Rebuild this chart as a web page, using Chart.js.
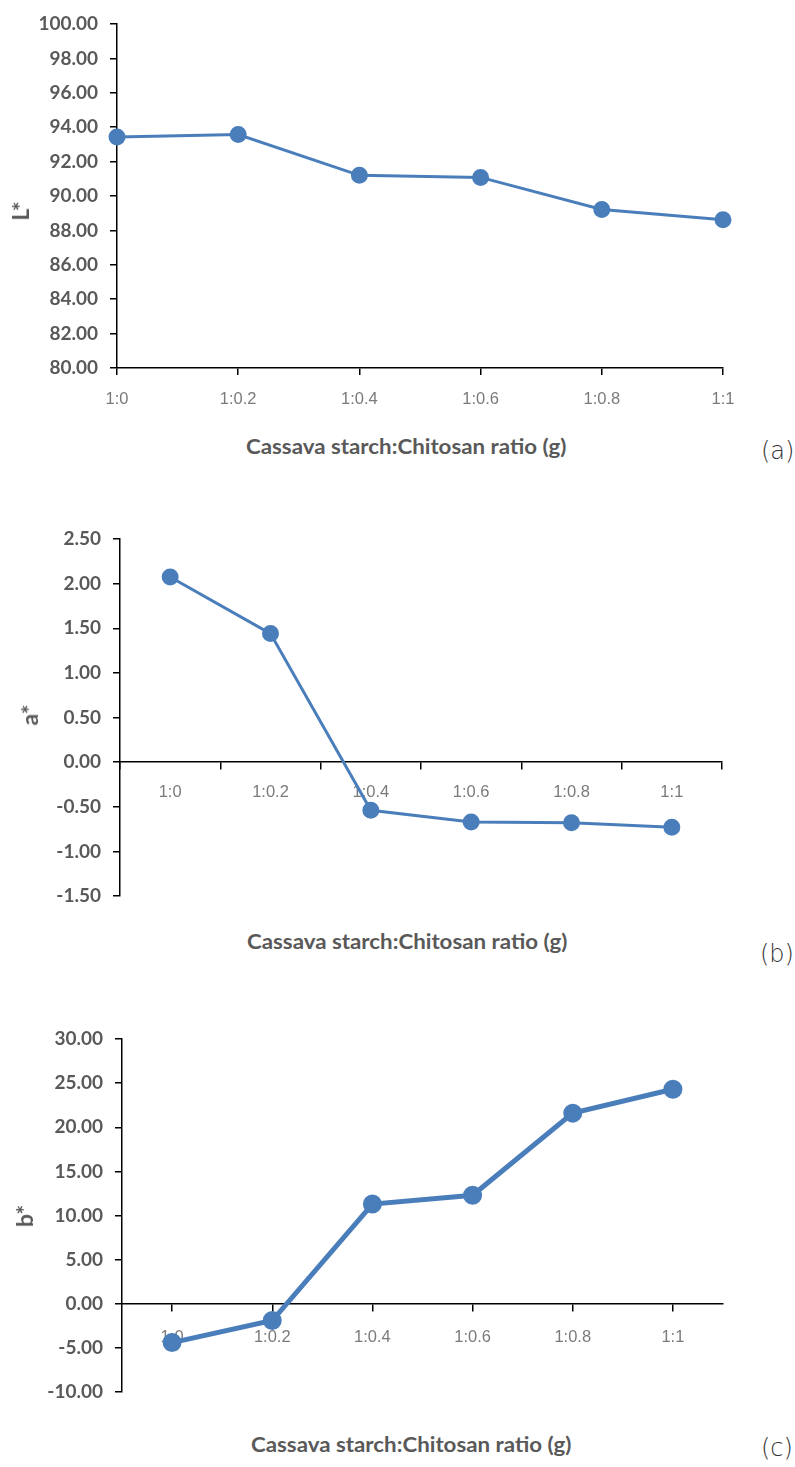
<!DOCTYPE html>
<html>
<head>
<meta charset="utf-8">
<script src="https://cdn.jsdelivr.net/npm/chart.js@4"></script>
<style>
  body { margin: 0; background: #fff; width: 795px; height: 1467px; position: relative; overflow: hidden; }
  canvas { position: absolute; left: 0; }
  .xtitle { position: absolute; white-space: nowrap; font: bold 20px Lato, 'Open Sans', sans-serif; color: #595959; transform-origin: 0 0; }
  .ytitle { position: absolute; white-space: nowrap; font: bold 23px Lato, 'Open Sans', sans-serif; color: #595959; transform: translate(-50%, -50%) rotate(-90deg); }
  .tag { position: absolute; font: 200 24px 'DejaVu Sans', sans-serif; color: #333; }
</style>
</head>
<body>
<canvas id="chartA" width="795" height="420" style="top:0px"></canvas>
<canvas id="chartB" width="795" height="420" style="top:500px"></canvas>
<canvas id="chartC" width="795" height="402" style="top:1014px"></canvas>

<div class="ytitle" style="left:20px;top:211px">L*</div>
<div class="ytitle" style="left:29px;top:715px">a*</div>
<div class="ytitle" style="left:24px;top:1216px">b*</div>
<div class="xtitle" data-cx="406" style="top:434px">Cassava starch:Chitosan ratio (g)</div>
<div class="xtitle" data-cx="407" style="top:929px">Cassava starch:Chitosan ratio (g)</div>
<div class="xtitle" data-cx="411" style="top:1432px">Cassava starch:Chitosan ratio (g)</div>
<div class="tag" style="left:761px;top:437px">(a)</div>
<div class="tag" style="left:760px;top:940px">(b)</div>
<div class="tag" style="left:761px;top:1434px">(c)</div>

<script>
// values
let ratios = ['1:0', '1:0.2', '1:0.4', '1:0.6', '1:0.8', '1:1'];
let lValues = [93.43, 93.57, 91.2, 91.08, 89.22, 88.62];
let aValues = [2.075, 1.44, -0.54, -0.67, -0.68, -0.73];
let bValues = [-4.4, -1.9, 11.3, 12.3, 21.6, 24.3];

let blue = '#4a7ebb';
let tickFont = { family: "Lato, 'Open Sans', sans-serif", size: 19, weight: 'bold' };
let catFont = { family: "'Liberation Sans', Arial, sans-serif", size: 16.5 };

// fit the axis titles to the width they have in the original
document.querySelectorAll('.xtitle').forEach(function (el) {
    let k = 320 / el.offsetWidth;
    el.style.transform = 'scaleX(' + k + ')';
    el.style.left = (Number(el.dataset.cx) - 160) + 'px';
});

function makeChart(id, values, opts) {
    new Chart(document.getElementById(id), {
        type: 'line',
        data: {
            labels: ratios,
            datasets: [{
                data: values,
                borderColor: blue,
                backgroundColor: blue,
                borderWidth: opts.lineWidth,
                pointRadius: 7,
                pointHoverRadius: 7,
                tension: 0
            }]
        },
        options: {
            responsive: false,
            animation: false,
            layout: { padding: opts.padding },
            plugins: { legend: { display: false }, tooltip: { enabled: false } },
            scales: {
                x: {
                    type: 'category',
                    position: opts.xPos,
                    offset: opts.offset,
                    grid: { display: true, drawOnChartArea: false, offset: opts.gridOffset, color: '#000', lineWidth: 1.5, tickLength: 7 },
                    border: { display: true, color: '#000', width: 1.5 },
                    ticks: { color: '#7a7a7a', font: catFont, padding: opts.labelPad, maxRotation: 0, autoSkip: false },
                    afterFit: function (s) { s.height = opts.xHeight; }
                },
                y: {
                    min: opts.min,
                    max: opts.max,
                    grid: { display: true, drawOnChartArea: false, color: '#000', lineWidth: 1.5, tickLength: 7 },
                    border: { display: true, color: '#000', width: 1.5 },
                    ticks: {
                        stepSize: opts.step,
                        color: '#595959',
                        font: tickFont,
                        padding: 12,
                        callback: function (v) { return v.toFixed(2); }
                    },
                    afterFit: function (s) { s.width = opts.yWidth; }
                }
            }
        }
    });
}

makeChart('chartA', lValues, {
    min: 80, max: 100, step: 2, yWidth: 117,
    padding: { left: 0, top: 24, right: 72, bottom: 0 },
    xPos: 'bottom', offset: false, gridOffset: false, labelPad: 15,
    xHeight: 52,
    lineWidth: 3
});

makeChart('chartB', aValues, {
    min: -1.5, max: 2.5, step: 0.5, yWidth: 120,
    padding: { left: 0, top: 39, right: 73, bottom: 24 },
    xPos: { y: 0 }, offset: true, gridOffset: true, labelPad: 13,
    xHeight: 0,
    lineWidth: 3
});

makeChart('chartC', bValues, {
    min: -10, max: 30, step: 5, yWidth: 122,
    padding: { left: 0, top: 25, right: 72, bottom: 24 },
    xPos: { y: 0 }, offset: true, gridOffset: false, labelPad: 17,
    xHeight: 0,
    lineWidth: 5
});
</script>
</body>
</html>
